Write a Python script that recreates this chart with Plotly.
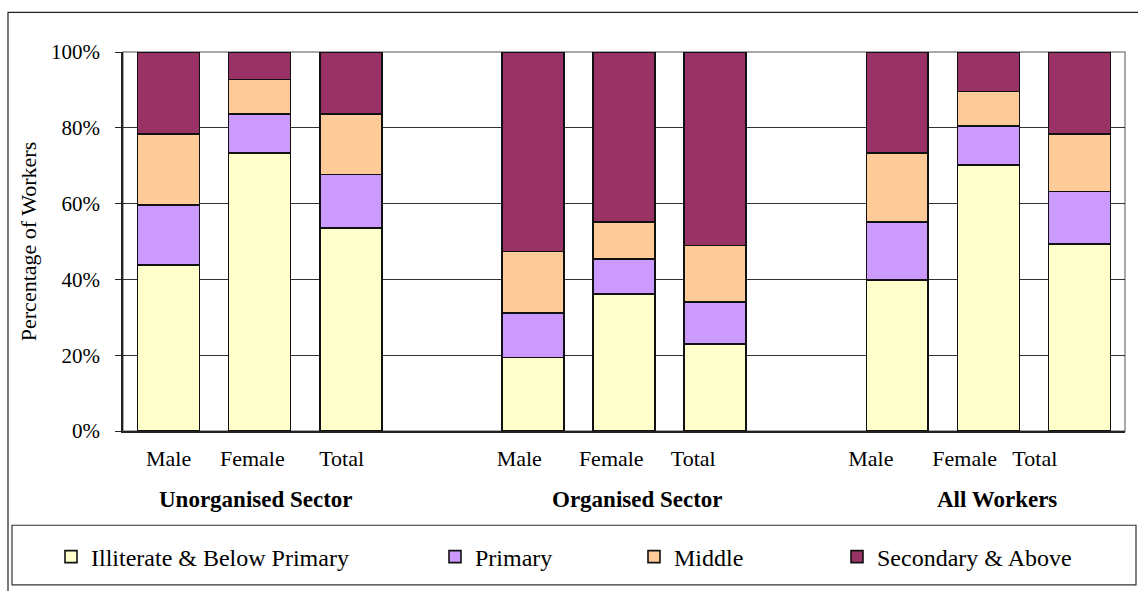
import plotly.graph_objects as go

# Educational attainment of workers, by sector and sex (percent of workers)
groups = ["Unorganised Sector", "Organised Sector", "All Workers"]
genders = ["Male", "Female", "Total"]
levels = ["Illiterate & Below Primary", "Primary", "Middle", "Secondary & Above"]

illiterate = [43.8, 73.4, 53.5, 19.4, 36.1, 23.0, 39.8, 70.2, 49.4]
primary = [15.8, 10.2, 14.2, 11.7, 9.3, 11.1, 15.3, 10.2, 13.8]
middle = [18.8, 9.1, 15.9, 16.3, 9.7, 14.8, 18.3, 9.2, 15.2]
secondary = [21.6, 7.3, 16.4, 52.6, 44.9, 51.1, 26.6, 10.4, 21.6]

series = [illiterate, primary, middle, secondary]
colors = ["#FFFFCC", "#CC99FF", "#FFCC99", "#993366"]

# Page geometry (pixels)
W, H = 1138, 591
L, R, T, B = 123, 13, 52, 157
PW, PH = W - L - R, H - T - B

def px_x(px):
    return (px - L) / PW

def px_y(py):
    return (H - B - py) / PH

# Bar slots: three bars per group with an empty slot between groups
positions = []
for g in range(len(groups)):
    for k in range(len(genders)):
        positions.append(g * 4 + k)

# Category labels sit slightly left of the bar centres
label_shift = [0.0, -0.08, -0.10, -0.15, -0.14, -0.24, -0.29, -0.26, -0.49]
tick_pos = [p + s for p, s in zip(positions, label_shift)]

FONT = "Liberation Serif"

fig = go.Figure()
for i, (name, vals, col) in enumerate(zip(levels, series, colors)):
    fig.add_trace(go.Bar(
        x=positions, y=vals, name=name, showlegend=True,
        marker=dict(color=col, line=dict(color="#111111", width=1.6)),
        legend="legend" if i == 0 else f"legend{i + 1}",
        hovertemplate="%{y:.1f}%<extra>" + name + "</extra>",
    ))

# One legend per entry so the entries can be spaced freely
legend_left = [51, 435, 634, 837]
legends = {}
for i, lx in enumerate(legend_left):
    key = "legend" if i == 0 else f"legend{i + 1}"
    legends[key] = dict(
        x=px_x(lx), y=px_y(561), xanchor="left", yanchor="middle",
        orientation="h", bgcolor="rgba(0,0,0,0)", borderwidth=0,
        font=dict(family=FONT, size=24, color="black"),
    )

shapes = [
    # outer frame
    dict(type="rect", xref="paper", yref="paper",
         x0=px_x(8), x1=px_x(1145), y0=px_y(600), y1=px_y(12),
         line=dict(color="#222222", width=1.2), layer="below"),
    # legend frame
    dict(type="rect", xref="paper", yref="paper",
         x0=px_x(12), x1=px_x(1136), y0=px_y(589), y1=px_y(529),
         line=dict(color="#333333", width=1.2), layer="below"),
    # grey plot border (top and right)
    dict(type="rect", xref="paper", yref="paper", x0=0, x1=1, y0=0, y1=1,
         line=dict(color="#8c8c8c", width=1.5), layer="between"),
]

group_label_x = [0.96, 5.15, 9.09]
annotations = [
    dict(x=gx, y=px_y(503), xref="x", yref="paper", text=f"<b>{g}</b>",
         showarrow=False, xanchor="center", yanchor="middle",
         font=dict(family=FONT, size=23, color="black"))
    for gx, g in zip(group_label_x, groups)
]

fig.update_layout(
    width=W, height=H,
    margin=dict(l=L, r=R, t=T, b=B, pad=0),
    paper_bgcolor="white", plot_bgcolor="white",
    barmode="stack", bargap=0.32, showlegend=True,
    font=dict(family=FONT, size=21, color="black"),
    shapes=shapes, annotations=annotations,
    xaxis=dict(
        range=[-0.5, 10.5], tickmode="array", tickvals=tick_pos,
        ticktext=genders * len(groups), showgrid=False, zeroline=False,
        showline=True, linecolor="#222222", linewidth=1.5, ticks="",
        ticklabelstandoff=7,
        tickfont=dict(family=FONT, size=22, color="black"),
    ),
    yaxis=dict(
        range=[0, 100], dtick=20, ticksuffix="%", showgrid=True,
        gridcolor="#333333", gridwidth=1, zeroline=False,
        showline=True, linecolor="#222222", linewidth=1.5,
        ticks="outside", ticklen=6, tickcolor="#222222", tickwidth=1.2,
        ticklabelstandoff=11,
        tickfont=dict(family=FONT, size=21, color="black"),
        title=dict(text="Percentage of Workers", standoff=8,
                   font=dict(family=FONT, size=22, color="black")),
    ),
    **legends,
)

fig.write_html("out.html")
